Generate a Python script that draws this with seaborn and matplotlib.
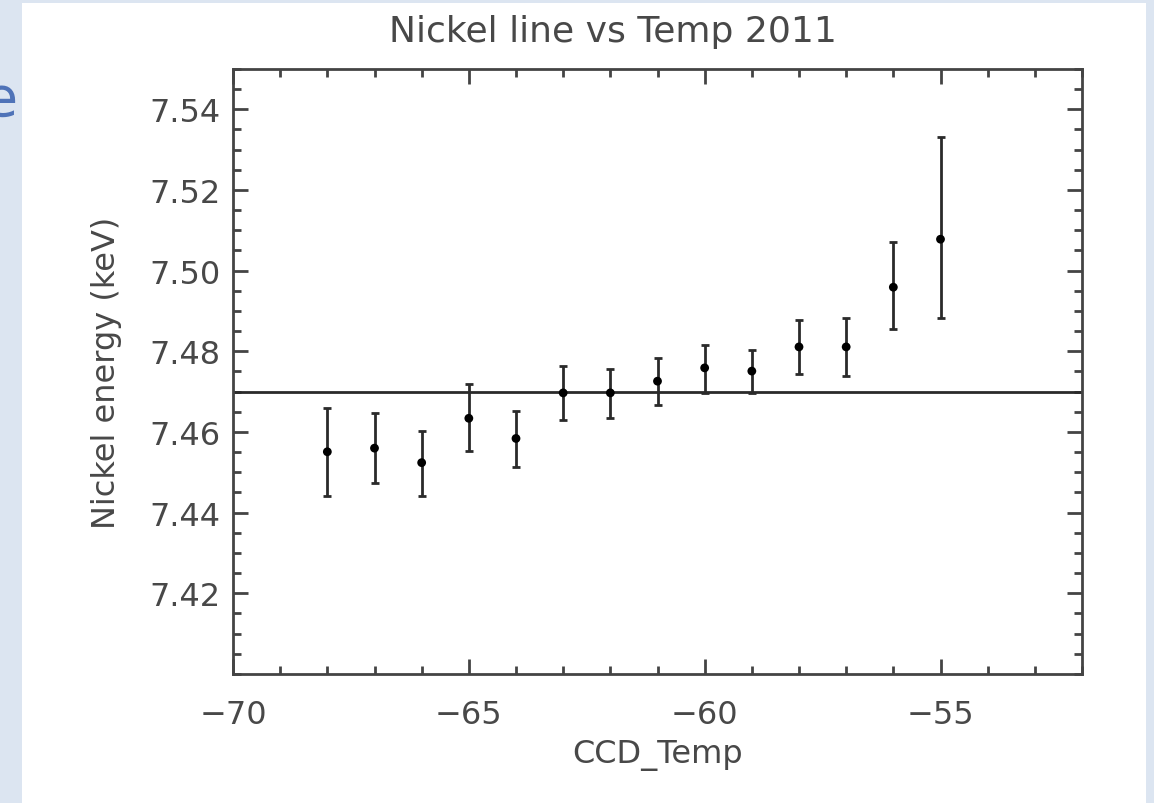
import numpy as np
import matplotlib
matplotlib.use("Agg")
import matplotlib.pyplot as plt
from matplotlib.ticker import MultipleLocator, FixedLocator, FormatStrFormatter
from matplotlib.patches import Rectangle
import seaborn as sns

# CCD temperature bins and fitted Ni K-alpha line energy (keV)
ccd_temp = [-68, -67, -66, -65, -64, -63, -62, -61, -60, -59, -58, -57, -56, -55]
ni_energy = [7.4551, 7.4560, 7.4524, 7.4634, 7.4584, 7.4697, 7.4697,
             7.4726, 7.4759, 7.4751, 7.4811, 7.4811, 7.4959, 7.5078]
ni_low = [7.4442, 7.4473, 7.4442, 7.4553, 7.4513, 7.4630, 7.4635,
          7.4668, 7.4697, 7.4697, 7.4745, 7.4738, 7.4856, 7.4883]
ni_high = [7.4659, 7.4646, 7.4602, 7.4719, 7.4652, 7.4764, 7.4757,
           7.4783, 7.4816, 7.4804, 7.4877, 7.4882, 7.5070, 7.5332]
ni_reference = 7.47

y_ticks = [7.42, 7.44, 7.46, 7.48, 7.50, 7.52, 7.54]

sns.set_theme(style="ticks")
plt.rcParams["font.family"] = ["DejaVu Sans"]

TXT = "#484848"
INK = "#2a2a2a"

W, H = 1154, 804
fig = plt.figure(figsize=(W / 100, H / 100), dpi=100)
fig.patch.set_facecolor("#dce5f1")

# white slide panel behind the plot
fig.patches.append(Rectangle((22 / W, 0), (1146 - 22) / W, 1 - 4 / H,
                             transform=fig.transFigure, facecolor="white",
                             edgecolor="none", zorder=-10))
fig.text(18 / W, 1 - 116 / H, "e", color="#4f73b8", fontsize=40,
         ha="right", va="baseline", zorder=1)

ax = fig.add_axes([233 / W, 1 - 675 / H, (1082 - 233) / W, (675 - 70) / H])
ax.set_facecolor("white")

df = {"CCD_Temp": ccd_temp, "energy": ni_energy}
e = np.array(ni_energy)
yerr = np.vstack([e - np.array(ni_low), np.array(ni_high) - e])

ax.axhline(ni_reference, color=INK, lw=2.0, zorder=2)
ax.errorbar(ccd_temp, ni_energy, yerr=yerr, fmt="none", ecolor=INK,
            elinewidth=2.0, capsize=3, capthick=2.0, zorder=3)
sns.scatterplot(data=df, x="CCD_Temp", y="energy", ax=ax, color="black",
                s=40, edgecolor="none", zorder=4)

ax.set_xlim(-70, -52)
ax.set_ylim(7.40, 7.55)
ax.xaxis.set_major_locator(MultipleLocator(5))
ax.xaxis.set_minor_locator(MultipleLocator(1))
ax.yaxis.set_major_locator(FixedLocator(y_ticks))
ax.yaxis.set_minor_locator(MultipleLocator(0.005))
ax.yaxis.set_major_formatter(FormatStrFormatter("%.2f"))

for s in ax.spines.values():
    s.set_visible(True)
    s.set_color("#444444")
    s.set_linewidth(2.0)

ax.tick_params(which="both", direction="in", top=True, right=True,
               color="#444444", labelcolor=TXT, labelsize=23)
ax.tick_params(which="major", length=11, width=2.0)
ax.tick_params(which="minor", length=5.5, width=2.0)
ax.tick_params(axis="x", which="major", pad=18)
ax.tick_params(axis="y", which="major", pad=9)

ax.set_xlabel("CCD_Temp", fontsize=23, color=TXT)
ax.set_ylabel("Nickel energy (keV)", fontsize=23, color=TXT)
ax.xaxis.set_label_coords(0.5, -0.108)
ax.yaxis.set_label_coords(-0.131, 0.5)

fig.text(613 / W, 1 - 42 / H, "Nickel line vs Temp 2011", fontsize=26,
         color=TXT, ha="center", va="baseline")

fig.savefig("out.png", dpi=100, facecolor=fig.get_facecolor())
